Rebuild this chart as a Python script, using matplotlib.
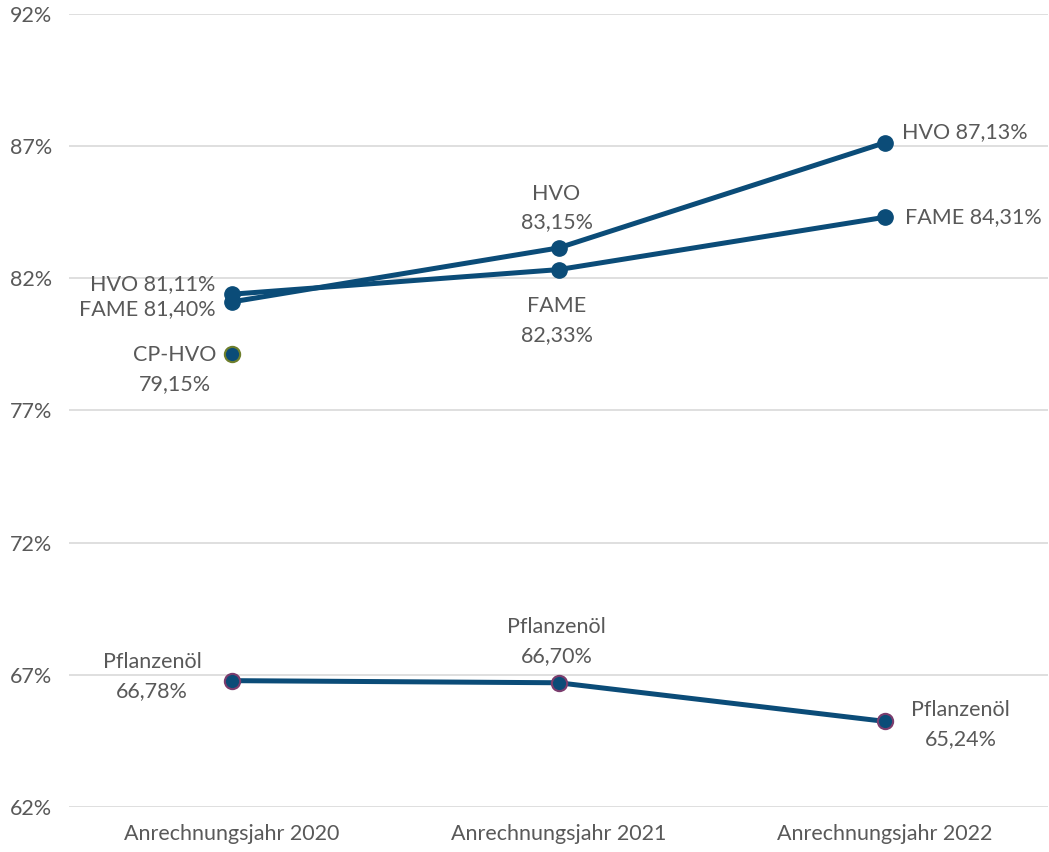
import matplotlib
matplotlib.use("Agg")
import matplotlib.pyplot as plt

categories = ["Anrechnungsjahr 2020", "Anrechnungsjahr 2021", "Anrechnungsjahr 2022"]
hvo = [81.11, 83.15, 87.13]
fame = [81.40, 82.33, 84.31]
cp_hvo = [79.15]
pflanzenoel = [66.78, 66.70, 65.24]
yticks = [62, 67, 72, 77, 82, 87, 92]

def fmt(v):
    return f"{v:.2f}".replace(".", ",") + "%"

plt.rcParams['font.family'] = ['Lato', 'DejaVu Sans']
txt = '#595959'
line_c = '#0b4c78'

fig = plt.figure(figsize=(10.49, 8.52), dpi=100)
ax = fig.add_axes([69/1049, 1-807/852, (1048-69)/1049, (807-14)/852])

x = list(range(len(categories)))
lw = 3.6
ms = 11
ax.plot(x, hvo, color=line_c, lw=lw, marker='o', ms=ms, mfc=line_c, mec=line_c, zorder=3, solid_capstyle='round')
ax.plot(x, fame, color=line_c, lw=lw, marker='o', ms=ms, mfc=line_c, mec=line_c, zorder=3, solid_capstyle='round')
ax.plot(x[:1], cp_hvo, color=line_c, lw=0, marker='o', ms=ms, mfc=line_c, mec='#6e7f2c', mew=1.5, zorder=3)
ax.plot(x, pflanzenoel, color=line_c, lw=lw, marker='o', ms=ms, mfc=line_c, mec='#7b3d6e', mew=1.5, zorder=3)

ax.set_xlim(-0.5, 2.5)
ax.set_ylim(62, 92)
ax.set_yticks(yticks)
ax.set_yticklabels([f"{t}%" for t in yticks])
ax.set_xticks(x)
ax.set_xticklabels(categories)
ax.grid(axis='y', color='#d9d9d9', lw=1.2)
ax.set_axisbelow(True)
for s in ax.spines.values():
    s.set_visible(False)
fs = 15.5
ax.tick_params(axis='both', length=0, labelsize=fs, colors=txt)
ax.tick_params(axis='y', pad=12)
ax.tick_params(axis='x', pad=12)

def lab(xi, yv, text, dx, dy, ha):
    ax.annotate(text, (xi, yv), xytext=(dx, -dy), textcoords='offset pixels',
                ha=ha, va='center', fontsize=fs, color=txt, linespacing=1.55, zorder=4)

# 2020
lab(0, hvo[0], "HVO " + fmt(hvo[0]), -17, -18, 'right')
lab(0, fame[0], "FAME " + fmt(fame[0]), -17, 15, 'right')
lab(0, cp_hvo[0], "CP-HVO\n" + fmt(cp_hvo[0]), -57, 16, 'center')
lab(0, pflanzenoel[0], "Pflanzenöl\n" + fmt(pflanzenoel[0]), -80, -4, 'center')
# 2021
lab(1, hvo[1], "HVO\n" + fmt(hvo[1]), -2, -40, 'center')
lab(1, fame[1], "FAME\n" + fmt(fame[1]), -2, 51, 'center')
lab(1, pflanzenoel[1], "Pflanzenöl\n" + fmt(pflanzenoel[1]), -2, -41, 'center')
# 2022
lab(2, hvo[2], "HVO " + fmt(hvo[2]), 17, -11, 'left')
lab(2, fame[2], "FAME " + fmt(fame[2]), 20, 0, 'left')
lab(2, pflanzenoel[2], "Pflanzenöl\n" + fmt(pflanzenoel[2]), 76, 3, 'center')

fig.savefig("out.png", dpi=100)
